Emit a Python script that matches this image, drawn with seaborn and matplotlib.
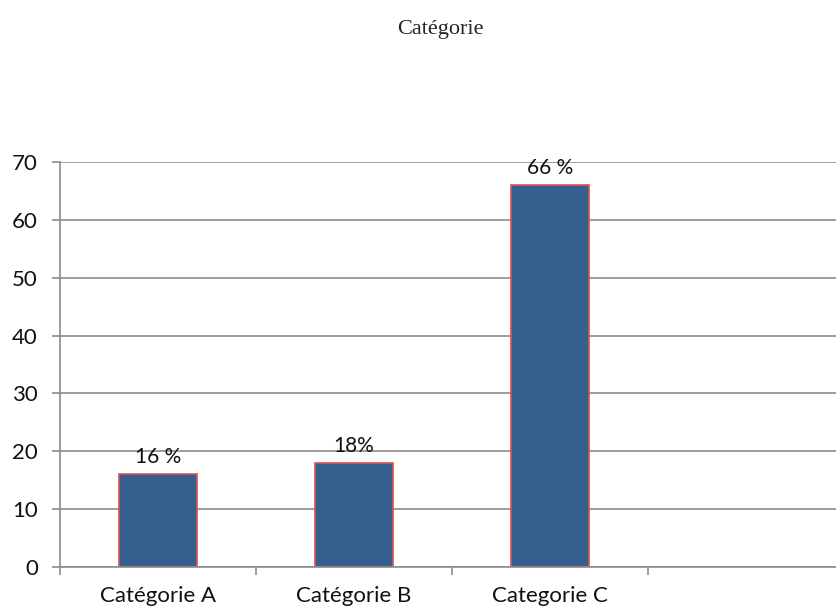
import matplotlib
matplotlib.use("Agg")
import matplotlib.pyplot as plt
import seaborn as sns

# --- Chart data ---
CATEGORIES = ["Catégorie A", "Catégorie B", "Categorie C"]
VALUES = [16, 18, 66]
VALUE_LABELS = ["16 %", "18%", "66 %"]
Y_TICKS = [0, 10, 20, 30, 40, 50, 60, 70]

# --- Style ---
BAR_COLOR = "#365E8E"
BAR_EDGE = "#D9534F"
GRID_COLOR = "#8C8C8C"
LABEL_FONT = ["Lato", "DejaVu Sans"]
TITLE_FONT = ["Liberation Serif", "DejaVu Serif"]


def main():
    sns.set_style("white")
    plt.rcParams["font.family"] = LABEL_FONT

    fig = plt.figure(figsize=(8.37, 6.11), dpi=100)
    ax = fig.add_axes([60 / 837, 44 / 611, 1 - 60 / 837, (567 - 162) / 611])

    sns.barplot(x=CATEGORIES, y=VALUES, ax=ax, width=0.4, color=BAR_COLOR,
                saturation=1, edgecolor=BAR_EDGE, linewidth=1.2)

    # value labels above bars
    ax.bar_label(ax.containers[0], labels=VALUE_LABELS, padding=5,
                 fontsize=15, color="#111111")

    ax.set_ylim(0, 70)
    ax.set_yticks(Y_TICKS)
    ax.set_xlim(-0.5, 3.464)
    ax.yaxis.grid(True, color=GRID_COLOR, linewidth=1.2)
    ax.set_axisbelow(True)

    for side in ["top", "right"]:
        ax.spines[side].set_visible(False)
    for side in ["left", "bottom"]:
        ax.spines[side].set_color(GRID_COLOR)
        ax.spines[side].set_linewidth(1.2)

    # category boundary ticks below the axis
    ax.set_xticks([-0.5, 0.5, 1.5, 2.5], minor=True)
    ax.tick_params(axis="x", which="major", length=0, pad=14, labelsize=16,
                   labelcolor="#111111")
    ax.tick_params(axis="x", which="minor", length=6, width=1.2, color=GRID_COLOR,
                   direction="out", bottom=True)
    ax.tick_params(axis="y", length=6, width=1.2, color=GRID_COLOR, direction="out",
                   left=True, pad=10, labelsize=16, labelcolor="#111111")
    ax.set_xlabel("")
    ax.set_ylabel("")

    fig.text(0.526, 0.951, "Catégorie", ha="center", va="center",
             fontsize=16, family=TITLE_FONT)

    fig.savefig("out.png", dpi=100)
    plt.close(fig)


if __name__ == "__main__":
    main()
